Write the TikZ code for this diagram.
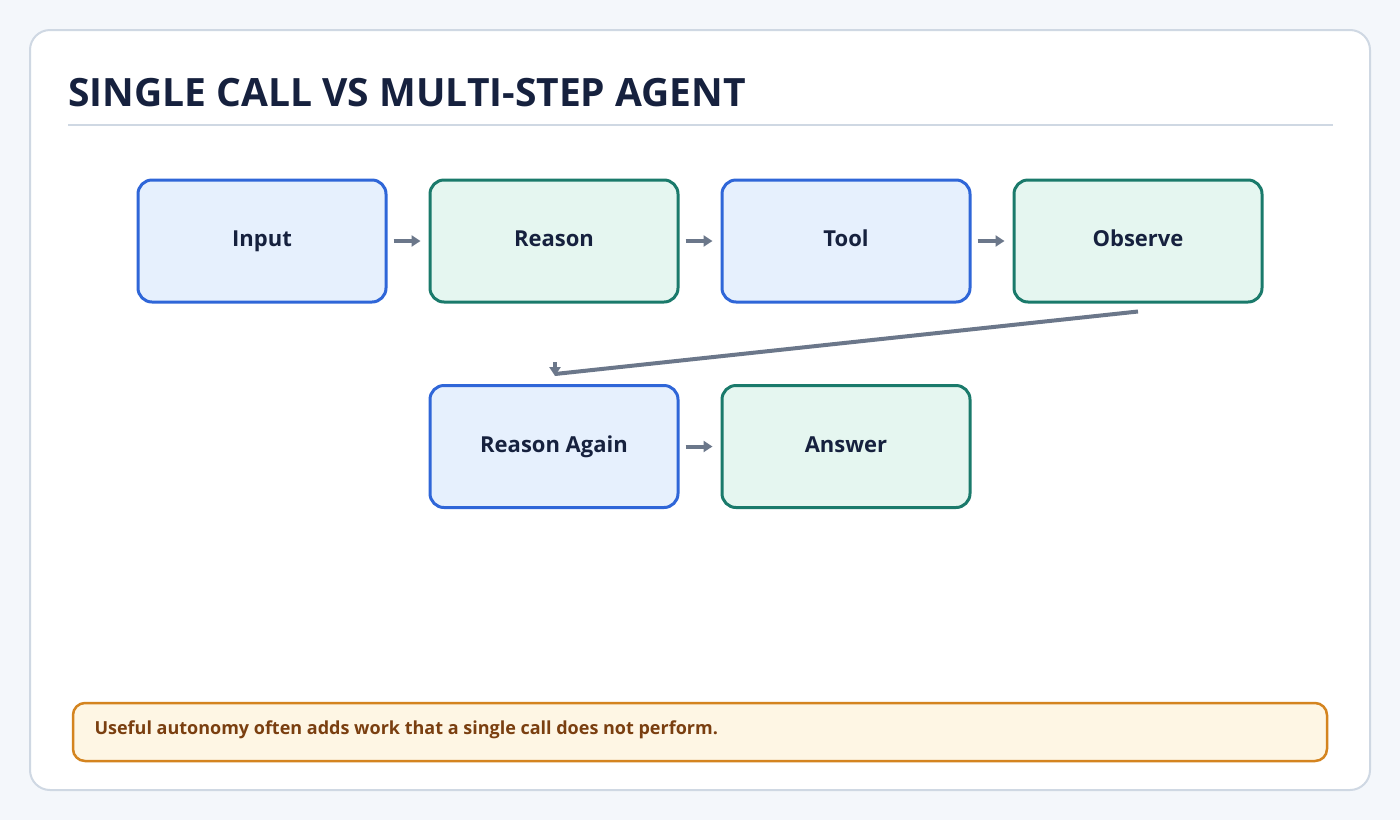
\documentclass[tikz,border=0pt]{standalone}
\usepackage{fontspec}
\setmainfont{Open Sans}
\usetikzlibrary{arrows.meta}
\definecolor{pagebg}{HTML}{F4F7FB}
\definecolor{cardline}{HTML}{CFD8E3}
\definecolor{ink}{HTML}{16213E}
\definecolor{blueline}{HTML}{2F66D8}
\definecolor{bluefill}{HTML}{E6F0FD}
\definecolor{greenline}{HTML}{1A7A6B}
\definecolor{greenfill}{HTML}{E5F6F0}
\definecolor{arrowgray}{HTML}{6B778A}
\definecolor{noteline}{HTML}{D4841F}
\definecolor{notefill}{HTML}{FEF6E4}
\definecolor{notetext}{HTML}{7A3F10}
\tikzset{>={Triangle[length=9pt,width=11pt]},
    stepbox/.style={draw,line width=3pt,rounded corners=14pt,minimum width=248pt,
        minimum height=122pt,text height=16pt,text depth=5pt,
        font=\fontsize{22}{26}\selectfont\bfseries,text=ink},
    bluestep/.style={stepbox,draw=blueline,fill=bluefill},
    greenstep/.style={stepbox,draw=greenline,fill=greenfill},
    flow/.style={->,line width=4pt,draw=arrowgray}}
\newcommand\hop[2]{
    \draw[flow] ([xshift=6pt]#1.east) -- ([xshift=-8pt]#2.west);
}

\begin{document}
\begin{tikzpicture}[x=1pt,y=-1pt]
            \useasboundingbox[fill=pagebg] (0,0) rectangle (1400,820);
            \draw[cardline,fill=white,line width=2pt,rounded corners=20pt] (30,30) rectangle (1370,790);
            \node[anchor=base west,text=ink,font=\fontsize{39}{46}\selectfont\bfseries,inner sep=0pt]
                (title) at (68,106) {SINGLE CALL VS MULTI-STEP AGENT};
            \draw[cardline,line width=2pt] (68,125) -- (1333,125);
            \node[bluestep]  (input)   at (262,241)   {Input};
            \node[greenstep] (reason)  at (554,241)   {Reason};
            \node[bluestep]  (tool)    at (846,241)   {Tool};
            \node[greenstep] (observe) at (1138,241)  {Observe};
            \node[bluestep]  (again)   at (554,446.5) {Reason Again};
            \node[greenstep] (answer)  at (846,446.5) {Answer};
            \hop{input}{reason}
            \hop{reason}{tool}
            \hop{tool}{observe}
            \hop{again}{answer}
            \coordinate (bend) at (555,374);
            \coordinate (tip)  at (555,376);
            \draw[line width=4pt,arrowgray] ([yshift=-8pt]observe.south) -- (bend);
            \draw[flow] ([yshift=14pt]tip) -- (tip);
            \node[draw=noteline,fill=notefill,line width=2.5pt,rounded corners=12pt,
                minimum width=1254pt,minimum height=58pt] (note) at (700,732) {};
            \node[anchor=west,text=notetext,font=\fontsize{18}{22}\selectfont\bfseries]
                (notetext) at (91,730) {Useful autonomy often adds work that a single call does not perform.};
        \end{tikzpicture}
\end{document}
